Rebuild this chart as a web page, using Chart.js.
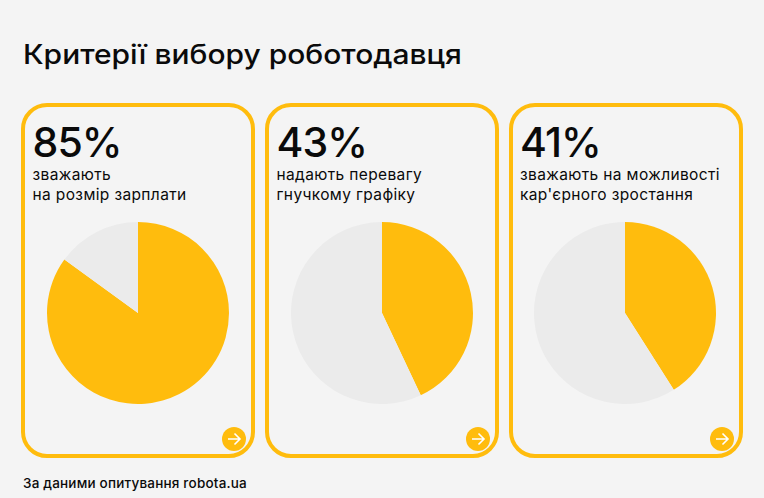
<!DOCTYPE html>
<html lang="uk">
<head>
<meta charset="utf-8">
<script src="https://cdn.jsdelivr.net/npm/chart.js@4"></script>
<style>
  html, body { margin: 0; padding: 0; }
  body { width: 764px; height: 498px; background: #f4f4f4; position: relative; overflow: hidden; font-family: Inter, sans-serif; color: #0a0a0a; }
  h1 { position: absolute; left: 23px; top: 38px; margin: 0; font-size: 27px; line-height: 34px; font-weight: 500; letter-spacing: 0; white-space: nowrap; transform: scaleX(1.11); transform-origin: left top; }
  .card { position: absolute; top: 103px; width: 234px; height: 355px; box-sizing: border-box; border: 4px solid #ffbc0d; border-radius: 26px; }
  .pct { position: absolute; left: 7.5px; top: 10px; font-size: 41px; line-height: 50px; font-weight: 500; letter-spacing: -0.9px; }
  .sub { position: absolute; left: 7.5px; top: 58px; font-size: 15.5px; line-height: 19.5px; letter-spacing: 0.37px; white-space: nowrap; }
  .pie { position: absolute; left: 17.5px; top: 110.5px; width: 190px; height: 190px; }
  .arrow { position: absolute; left: 197px; top: 320px; width: 24px; height: 24px; }
  .note { position: absolute; left: 23px; top: 474px; font-size: 13.5px; line-height: 18px; font-weight: 500; letter-spacing: 0.2px; }
</style>
</head>
<body>
<h1>Критерії вибору роботодавця</h1>
<div id="cards"></div>
<div class="note">За даними опитування robota.ua</div>
<script>
const percents = [85, 43, 41];
const rests = [15, 57, 59];
const captions = [
  ["зважають", "на розмір зарплати"],
  ["надають перевагу", "гнучкому графіку"],
  ["зважають на можливості", "кар'єрного зростання"]
];
const cardLefts = [21, 265, 508.5];

const holder = document.getElementById("cards");

percents.forEach((pct, i) => {
  const card = document.createElement("div");
  card.className = "card";
  card.style.left = cardLefts[i] + "px";
  card.innerHTML =
    '<div class="pct">' + pct + '%</div>' +
    '<div class="sub">' + captions[i].join("<br>") + '</div>' +
    '<div class="pie"><canvas width="190" height="190"></canvas></div>' +
    '<svg class="arrow" viewBox="0 0 24 24"><circle cx="12" cy="12" r="12" fill="#ffbc0d"/>' +
    '<path d="M6 12H17.5M12.5 6.5L18 12L12.5 17.5" fill="none" stroke="#fff" stroke-width="1.6"/></svg>';
  holder.appendChild(card);

  new Chart(card.querySelector("canvas"), {
    type: "pie",
    data: {
      labels: ["Так", "Інше"],
      datasets: [{
        data: [pct, rests[i]],
        backgroundColor: ["#ffbc0d", "#ebebeb"],
        borderWidth: 0
      }]
    },
    options: {
      responsive: false,
      animation: false,
      radius: 91,
      plugins: { legend: { display: false }, tooltip: { enabled: false } }
    }
  });
});
</script>
</body>
</html>
